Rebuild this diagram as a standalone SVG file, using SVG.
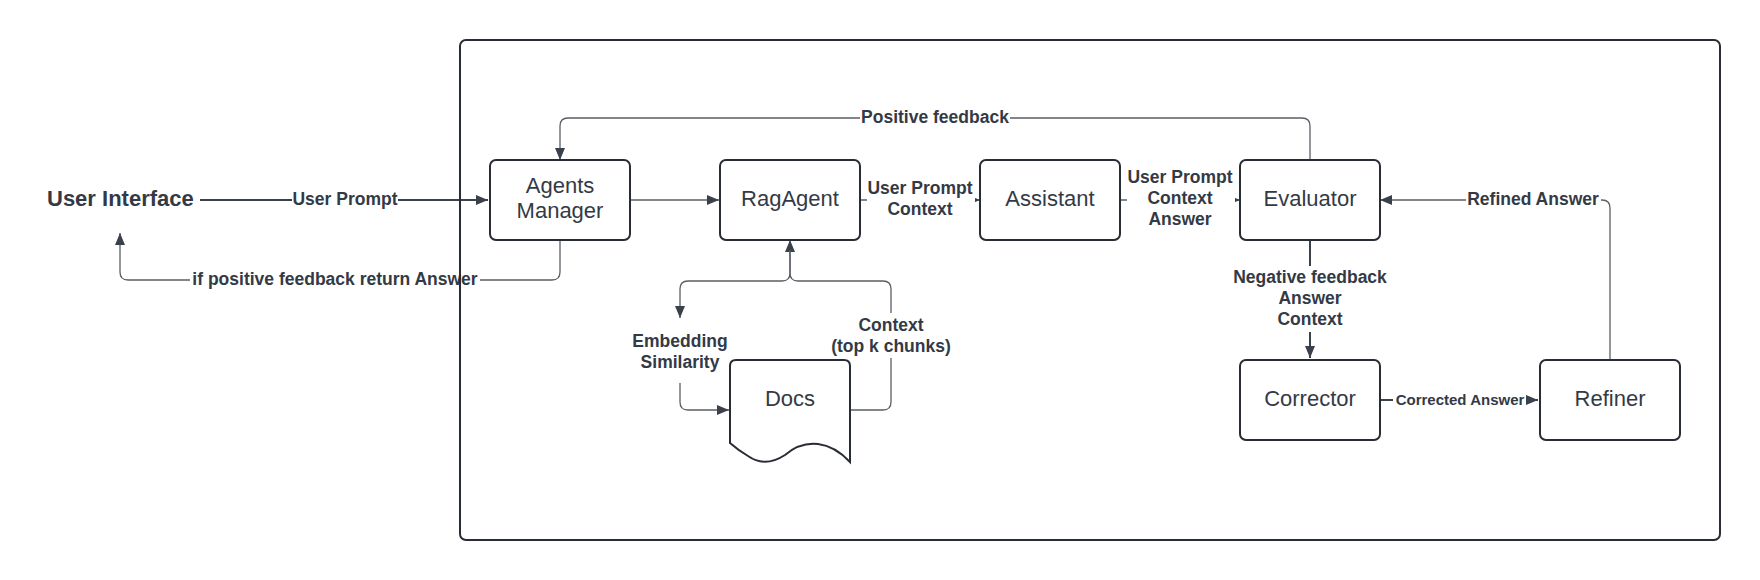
<svg xmlns="http://www.w3.org/2000/svg" width="1760" height="580" viewBox="0 0 1760 580">
<defs>
<marker id="ah" viewBox="0 0 12 10" refX="12" refY="5" markerWidth="12" markerHeight="10" markerUnits="userSpaceOnUse" orient="auto">
<path d="M0,0 L12,5 L0,10 z" fill="#3a414a"/>
</marker>
<style>
.node{fill:#ffffff;stroke:#282c33;stroke-width:2}
.nt{font-family:"Liberation Sans",Arial,sans-serif;font-size:22px;fill:#333a45;text-anchor:middle;dominant-baseline:central}
.lt{font-family:"Liberation Sans",Arial,sans-serif;font-size:17.5px;font-weight:bold;fill:#333a45;text-anchor:middle;dominant-baseline:central}
.c{fill:none;stroke:#3a414a;stroke-width:2}
.t{fill:none;stroke:#5a5f66;stroke-width:1.3}
.bg{fill:#ffffff}
</style>
</defs>
<rect width="1760" height="580" fill="#ffffff"/>

<g id="connectors">
<!-- User prompt -->
<path class="c" d="M200,200 H488" marker-end="url(#ah)"/>
<rect class="bg" x="292" y="188" width="106" height="24"/>
<text class="lt" x="345" y="199">User Prompt</text>
<!-- return -->
<path class="t" d="M560,240 V272 Q560,280 552,280 H128 Q120,280 120,272 V233" marker-end="url(#ah)"/>
<rect class="bg" x="190" y="268" width="290" height="24"/>
<text class="lt" x="335" y="279">if positive feedback return Answer</text>
<!-- manager to rag -->
<path class="t" d="M630,200 H719" marker-end="url(#ah)"/>
<!-- positive feedback -->
<path class="t" d="M1310,160 V126 Q1310,118 1302,118 H568 Q560,118 560,126 V160" marker-end="url(#ah)"/>
<rect class="bg" x="860" y="106" width="150" height="24"/>
<text class="lt" x="935" y="117">Positive feedback</text>
<!-- rag to assistant -->
<path class="t" d="M860,200 H980" marker-end="url(#ah)"/>
<rect class="bg" x="867" y="176" width="108" height="44"/>
<text class="lt" x="920" y="188">User Prompt</text>
<text class="lt" x="920" y="209">Context</text>
<!-- assistant to evaluator -->
<path class="t" d="M1120,200 H1240" marker-end="url(#ah)"/>
<rect class="bg" x="1127" y="165" width="108" height="66"/>
<text class="lt" x="1180" y="177">User Prompt</text>
<text class="lt" x="1180" y="198">Context</text>
<text class="lt" x="1180" y="219">Answer</text>
<!-- refiner to evaluator -->
<path class="t" d="M1610,360 V208 Q1610,200 1602,200 H1380" marker-end="url(#ah)"/>
<rect class="bg" x="1466" y="188" width="135" height="24"/>
<text class="lt" x="1533" y="199">Refined Answer</text>
<!-- evaluator to corrector -->
<path class="c" d="M1310,240 V358" marker-end="url(#ah)"/>
<rect class="bg" x="1230" y="266" width="160" height="66"/>
<text class="lt" x="1310" y="277">Negative feedback</text>
<text class="lt" x="1310" y="298">Answer</text>
<text class="lt" x="1310" y="319">Context</text>
<!-- corrector to refiner -->
<path class="c" d="M1380,400 H1538" marker-end="url(#ah)"/>
<rect class="bg" x="1393" y="390" width="133" height="20"/>
<text class="lt" x="1460" y="399" style="font-size:15px">Corrected Answer</text>
<!-- docs context to rag -->
<path class="t" d="M850,410 H883 Q891,410 891,402 V289 Q891,281 883,281 H798 Q790,281 790,273 V240" marker-end="url(#ah)"/>
<rect class="bg" x="831" y="313" width="120" height="45"/>
<text class="lt" x="891" y="325">Context</text>
<text class="lt" x="891" y="346">(top k chunks)</text>
<!-- rag to docs (embedding similarity) -->
<path class="t" d="M790,250 V273 Q790,281 782,281 H688 Q680,281 680,289 V318" marker-end="url(#ah)"/>
<text class="lt" x="680" y="341">Embedding</text>
<text class="lt" x="680" y="362">Similarity</text>
<path class="t" d="M680,383 V402 Q680,410 688,410 H729" marker-end="url(#ah)"/>
</g>

<rect id="container" x="460" y="40" width="1260" height="500" rx="6" fill="none" stroke="#282c33" stroke-width="2"/>

<g id="user-interface">
<text x="47" y="198" style="font-family:'Liberation Sans',Arial,sans-serif;font-size:22px;font-weight:bold;fill:#333a45;dominant-baseline:central">User Interface</text>
</g>
<g id="agents-manager">
<rect class="node" x="490" y="160" width="140" height="80" rx="6"/>
<text class="nt" x="560" y="185">Agents</text>
<text class="nt" x="560" y="210">Manager</text>
</g>
<g id="ragagent">
<rect class="node" x="720" y="160" width="140" height="80" rx="6"/>
<text class="nt" x="790" y="198">RagAgent</text>
</g>
<g id="assistant">
<rect class="node" x="980" y="160" width="140" height="80" rx="6"/>
<text class="nt" x="1050" y="198">Assistant</text>
</g>
<g id="evaluator">
<rect class="node" x="1240" y="160" width="140" height="80" rx="6"/>
<text class="nt" x="1310" y="198">Evaluator</text>
</g>
<g id="corrector">
<rect class="node" x="1240" y="360" width="140" height="80" rx="6"/>
<text class="nt" x="1310" y="398">Corrector</text>
</g>
<g id="refiner">
<rect class="node" x="1540" y="360" width="140" height="80" rx="6"/>
<text class="nt" x="1610" y="398">Refiner</text>
</g>
<g id="docs">
<path class="node" d="M736,360 H844 Q850,360 850,366 V462 Q835,446 818,444 Q800,442 785,455 Q765,468 748,456 Q738,450 730,443 V366 Q730,360 736,360 Z"/>
<text class="nt" x="790" y="398">Docs</text>
</g>
</svg>
